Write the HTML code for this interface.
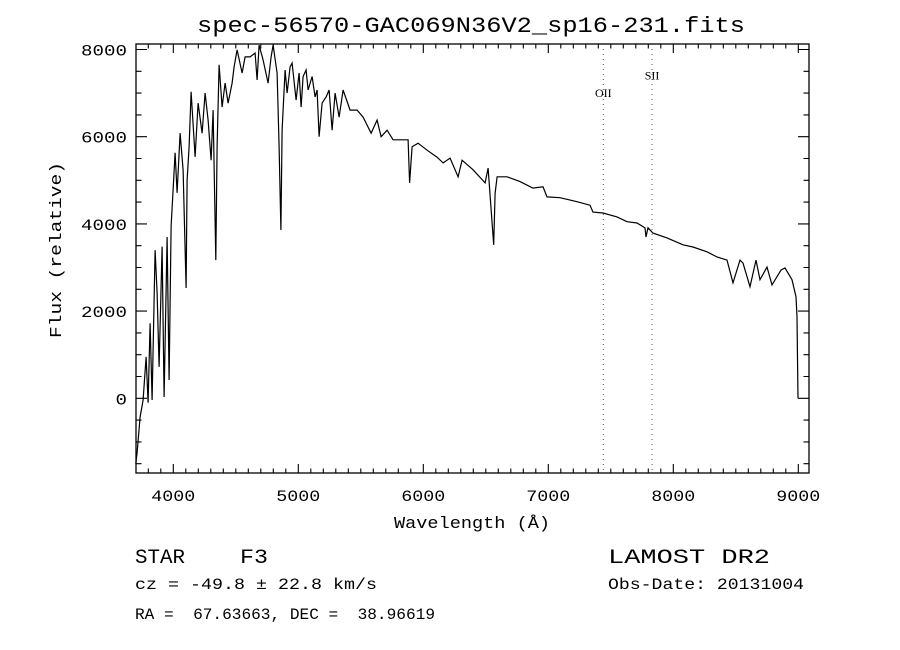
<!DOCTYPE html>
<html><head><meta charset="utf-8"><style>
html,body{margin:0;padding:0;background:#fff;}
svg{display:block;}
text{font-family:"Liberation Mono","DejaVu Sans Mono",monospace;fill:#000;}
</style></head><body>
<svg id="chart" width="900" height="650" xmlns="http://www.w3.org/2000/svg">
<rect x="0" y="0" width="900" height="650" fill="#fff"/>
<text x="471" y="32" font-size="22" text-anchor="middle" textLength="548" lengthAdjust="spacingAndGlyphs">spec-56570-GAC069N36V2_sp16-231.fits</text>
<g id="axes"></g>
<path id="spec" fill="none" stroke="#000" stroke-width="1.2"/>
<text x="472" y="528" font-size="17" text-anchor="middle" textLength="156" lengthAdjust="spacingAndGlyphs">Wavelength (Å)</text>
<text transform="translate(61,250) rotate(-90)" font-size="17" text-anchor="middle" textLength="176" lengthAdjust="spacingAndGlyphs">Flux (relative)</text>
<text x="135" y="563" font-size="20" textLength="50" lengthAdjust="spacingAndGlyphs">STAR</text>
<text x="240" y="563" font-size="20" textLength="28" lengthAdjust="spacingAndGlyphs">F3</text>
<text x="608" y="563" font-size="20" textLength="162" lengthAdjust="spacingAndGlyphs">LAMOST DR2</text>
<text x="135" y="589" font-size="16" textLength="242" lengthAdjust="spacingAndGlyphs">cz = -49.8 ± 22.8 km/s</text>
<text x="608" y="589" font-size="16" textLength="196" lengthAdjust="spacingAndGlyphs">Obs-Date: 20131004</text>
<text x="135" y="619" font-size="16" textLength="300" lengthAdjust="spacingAndGlyphs" xml:space="preserve">RA =  67.63663, DEC =  38.96619</text>
</svg>
<script>
const xTicks = [4000,5000,6000,7000,8000,9000];
const yTicks = [0,2000,4000,6000,8000];
const lineNames = ["OII","SII"];
const lineWaves = [7440,7830];
const lineLabelFlux = [7000,7400];
const waves = [3700,3710,3734,3758,3782,3798,3814,3830,3854,3870,3886,3910,3926,3950,3966,3982,3998,4014,4030,4054,4078,4102,4110,4126,4142,4174,4198,4230,4254,4278,4302,4318,4340,4350,4366,4390,4414,4438,4470,4486,4510,4550,4574,4614,4654,4670,4686,4718,4758,4782,4798,4830,4846,4861,4870,4894,4910,4934,4950,4982,5006,5022,5038,5062,5078,5110,5134,5150,5166,5190,5222,5246,5270,5294,5326,5358,5414,5470,5518,5582,5630,5662,5710,5758,5814,5838,5878,5890,5910,5958,6030,6110,6158,6214,6278,6310,6398,6494,6518,6550,6563,6574,6590,6670,6774,6878,6958,6990,7094,7230,7334,7358,7438,7550,7630,7710,7774,7782,7798,7838,7950,8078,8158,8270,8350,8430,8478,8534,8558,8614,8662,8694,8750,8790,8862,8894,8950,8982,8990,8998,9006];
const flux = [-1500,-1250,-430,-40,950,-100,1720,-40,3400,2420,720,3480,30,3700,420,3940,4780,5630,4710,6080,5240,2530,5000,5770,7030,5540,6770,6080,7000,6380,5460,6610,3170,5770,7650,6680,7230,6770,7230,7600,7990,7460,7830,7830,7920,7300,8100,7760,7230,7830,8100,7460,5770,3860,6150,7530,7000,7600,7690,6840,7460,6680,7380,7530,7070,7380,6910,7070,6000,6770,6910,7070,6150,7000,6450,7070,6610,6610,6450,6080,6380,6000,6150,5930,5930,5930,5930,4940,5770,5850,5690,5530,5400,5510,5080,5460,5240,4940,5280,4020,3520,4700,5080,5080,4970,4820,4850,4620,4600,4510,4430,4270,4250,4160,4050,4020,3910,3700,3910,3790,3680,3520,3470,3360,3240,3170,2650,3170,3100,2560,3170,2720,3010,2600,2940,2990,2720,2330,1870,0];
const L=136,R=809,T=44,B=473;
const xScale = w => 173.3 + (w-4000)*0.125;
const yScale = f => 398.3 - f*0.0436;
const NS="http://www.w3.org/2000/svg";
const ax=document.getElementById('axes');
function mk(tag,attrs){const e=document.createElementNS(NS,tag);for(const k in attrs)e.setAttribute(k,attrs[k]);ax.appendChild(e);return e;}
const frame=mk('rect',{x:L,y:T,width:R-L,height:B-T,fill:'none',stroke:'#000','stroke-width':1.3});


let d='';
for(let w=3700;w<=9080;w+=100){const x=xScale(w);if(x<L||x>R)continue;const len=(w%1000===0)?9:4.5;d+=`M${x},${B}v${-len}M${x},${T}v${len}`;}
for(let f=-1500;f<=8000;f+=500){const y=yScale(f);if(y<T||y>B)continue;const len=(f%2000===0)?11:5.5;d+=`M${L},${y}h${len}M${R},${y}h${-len}`;}
const ticks=mk('path',{d:d,stroke:'#000','stroke-width':1.1,fill:'none'});


xTicks.forEach(v=>{const t=mk('text',{x:xScale(v),y:501,'font-size':16,'text-anchor':'middle',textLength:44,lengthAdjust:'spacingAndGlyphs'});t.textContent=String(v);

});
yTicks.forEach(v=>{const s=String(v);const t=mk('text',{x:127,y:yScale(v)+6,'font-size':16,'text-anchor':'end',textLength:11.5*s.length,lengthAdjust:'spacingAndGlyphs'});t.textContent=s;

});
lineNames.forEach((n,i)=>{const x=xScale(lineWaves[i]);
const ln=mk('line',{x1:x,x2:x,y1:T,y2:B,stroke:'#6b4a3a','stroke-width':1,'stroke-dasharray':'1,4'});


const t=mk('text',{x:x,y:yScale(lineLabelFlux[i])+4,'font-size':12,'text-anchor':'middle','style':'font-family:"Liberation Serif",serif'});t.textContent=n;

});
let p='';
waves.forEach((w,i)=>{p+=(i?'L':'M')+xScale(w).toFixed(1)+','+Math.min(B,yScale(flux[i])).toFixed(1);});
document.getElementById('spec').setAttribute('d',p);
</script>
</body></html>
